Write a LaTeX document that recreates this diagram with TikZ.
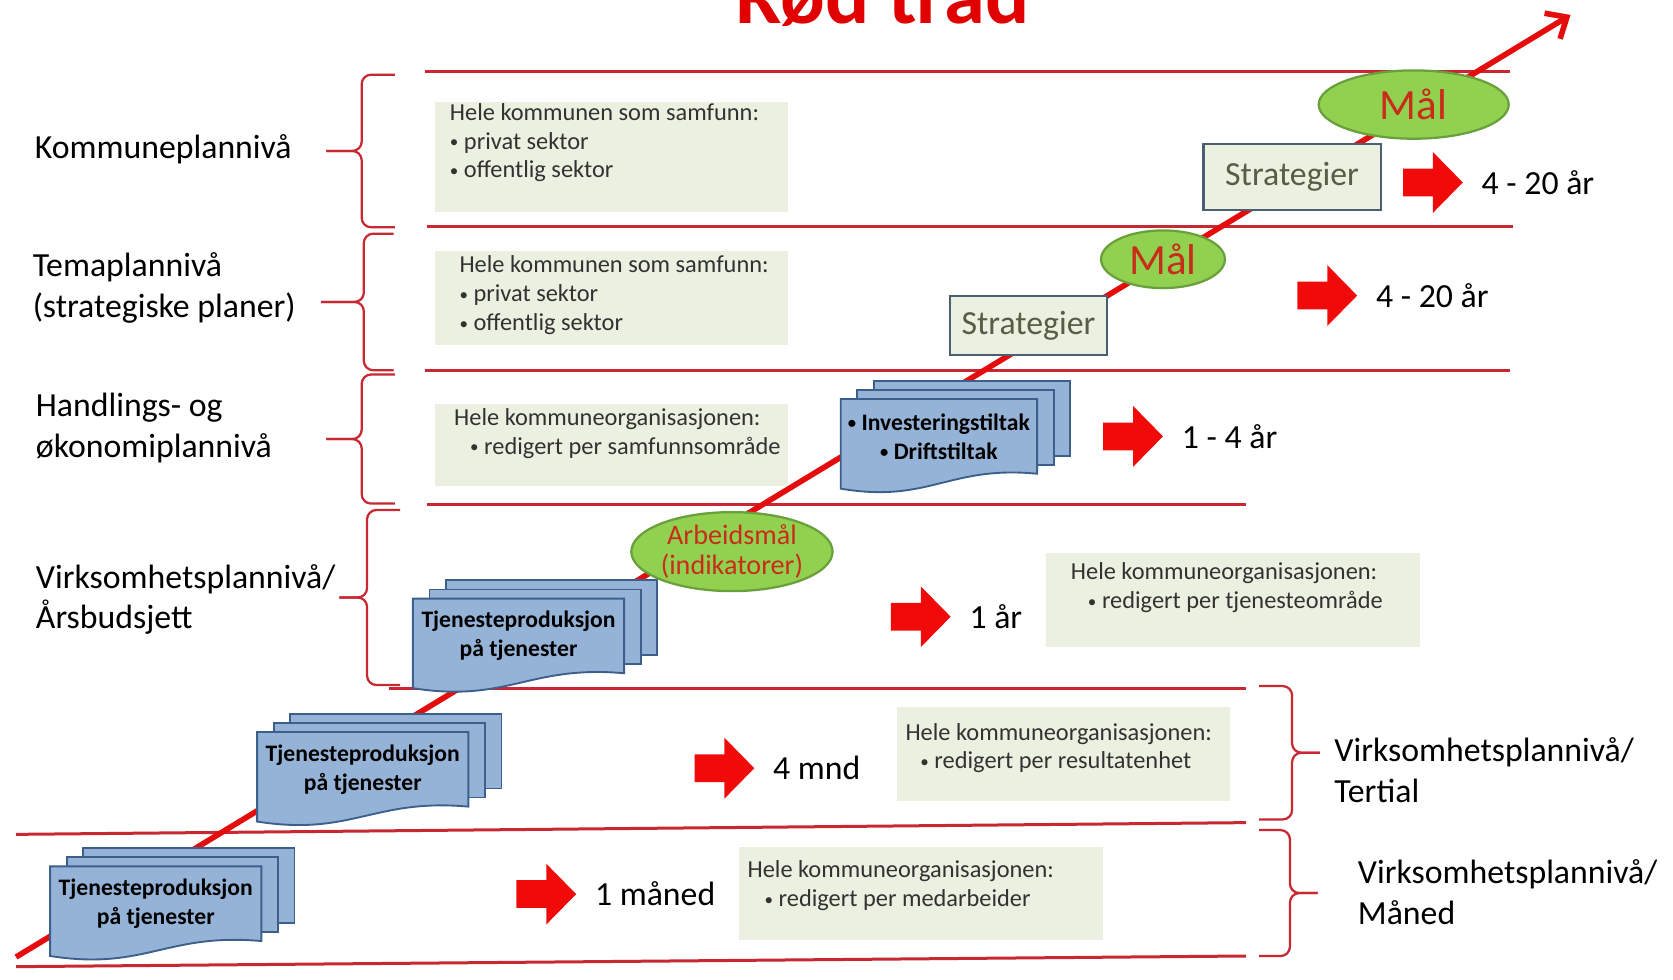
\documentclass[tikz,border=0pt]{standalone}
\usepackage{fontspec}
\setmainfont{Carlito}
\usetikzlibrary{arrows.meta, positioning, calc, shapes.geometric}
\definecolor{lineRed}{RGB}{200,40,50}
\definecolor{threadRed}{RGB}{228,12,12}
\definecolor{arrowRed}{RGB}{240,10,10}
\definecolor{titleRed}{RGB}{225,0,0}
\definecolor{boxFill}{RGB}{235,240,224}
\definecolor{docFill}{RGB}{149,179,215}
\definecolor{docLine}{RGB}{60,95,140}
\definecolor{goalFill}{RGB}{146,208,80}
\definecolor{goalLine}{RGB}{105,160,60}
\definecolor{goalText}{RGB}{200,45,25}
\definecolor{stratLine}{RGB}{75,95,115}
\definecolor{stratText}{RGB}{85,95,70}
\tikzset{
    level/.style={draw=lineRed, line width=0.8pt},
    brc/.style={draw=lineRed, line width=0.6pt, rounded corners=2.5pt},
    thread/.style={draw=threadRed, line width=1.5pt, -{Straight Barb[length=1.6mm, width=2.8mm]}},
    maintitle/.style={anchor=base, inner sep=0pt, text=titleRed, font=\fontsize{22}{26}\selectfont\bfseries},
    lvllabel/.style={anchor=west, align=left, inner sep=0pt, font=\fontsize{9}{10.8}\selectfont},
    dur/.style={inner sep=0pt, font=\fontsize{9}{10.8}\selectfont},
    infobox/.style={anchor=north west, fill=boxFill, inner sep=0pt},
    infotext/.style={anchor=north west, align=left, inner sep=0pt, text={rgb,255:red,50;green,50;blue,50}, font=\fontsize{6.5}{7.7}\selectfont},
    docpage/.style={fill=docFill, draw=docLine, line width=0.5pt},
    doctext/.style={align=center, inner sep=0pt, font=\fontsize{6.3}{7.7}\selectfont\bfseries},
    goal/.style={ellipse, fill=goalFill, draw=goalLine, line width=0.6pt, inner sep=0pt, text=goalText, font=\fontsize{11.5}{13}\selectfont},
    strat/.style={rectangle, fill=boxFill, draw=stratLine, line width=0.6pt, inner sep=0pt, text=stratText, font=\fontsize{9}{10.8}\selectfont},
    blockarrow/.pic={
        \fill[arrowRed] (0,-13) -- (28,-13) -- (28,-28.5) -- (56,0) -- (28,28.5) -- (28,13) -- (0,13) -- cycle;
        \coordinate (-tip) at (56,0);
    }
}
% small bullet
\newcommand{\bul}{\raisebox{0.12ex}{\scalebox{0.7}{•}}}
% brace: end x, spine x, tip x, top y, bottom y
\newcommand{\sidebrace}[5]{%
    \draw[brc] (#1,#4) -- (#2,#4) -- (#2,{(#4+#5)/2}) -- (#3,{(#4+#5)/2});
    \draw[brc] (#3,{(#4+#5)/2}) -- (#2,{(#4+#5)/2}) -- (#2,#5) -- (#1,#5);
}
% stack of pages: centre x, centre y, width, name, text
\newcommand{\docstack}[5]{%
    \foreach \k in {2,1}
        \filldraw[docpage] ({#1-#3/2+15.5*\k},{#2-35-8.5*\k}) rectangle ({#1+#3/2+15.5*\k},{#2+35-8.5*\k});
    \filldraw[docpage] ({#1-#3/2},{#2-35}) -- ({#1+#3/2},{#2-35}) -- ({#1+#3/2},{#2+35})
        .. controls ({#1+0.05*#3},{#2+27}) and ({#1-0.05*#3},{#2+63}) .. ({#1-#3/2},{#2+49}) -- cycle;
    \node[doctext] (#4) at (#1,#2) {#5};
}

\begin{document}
\begin{tikzpicture}[x=0.01cm, y=-0.01cm]
    \useasboundingbox (0,0) rectangle (1568,918);
    % Title
    \node[maintitle] (title) at (827,22) {Rød tråd};
    % Level lines
    \draw[level] (398,67) -- (1415,67);
    \draw[level] (400,212) -- (1418,212);
    \draw[level] (398,347) -- (1415,347);
    \draw[level] (400,473) -- (1168,473);
    \draw[level] (365,645) -- (1168,645);
    \draw[level] (15,782) -- (1168,771);
    \draw[level] (15,906) -- (1168,896);
    % Braces
    \sidebrace{370}{339}{306}{70}{213}
    \sidebrace{369}{341}{301}{219}{347}
    \sidebrace{370}{339}{306}{351}{472}
    \sidebrace{375}{344}{318}{478}{642}
    \sidebrace{1180}{1211}{1237}{643}{768}
    \sidebrace{1180}{1209}{1235}{778}{896}
    % Red thread
    \coordinate (thrStart) at (15,897);
    \coordinate (thrEnd) at (1472,14);
    \draw[thread] (thrStart) -- (thrEnd);
    % Info boxes
    \node[infobox, minimum width=3.31cm, minimum height=1.03cm] (komBox) at (407,95) {};
    \node[infotext] (komText) at ($(komBox.north west)+(14,1)$) {Hele kommunen som samfunn:\\\bul{} privat sektor\\\bul{} offentlig sektor};
    \node[infobox, minimum width=3.31cm, minimum height=0.88cm] (temaBox) at (407,235) {};
    \node[infotext] (temaText) at ($(temaBox.north west)+(23,4)$) {Hele kommunen som samfunn:\\\bul{} privat sektor\\\bul{} offentlig sektor};
    \node[infobox, minimum width=3.31cm, minimum height=0.77cm] (handBox) at (407,378) {};
    \node[infotext] (handText) at ($(handBox.north west)+(18,4)$) {Hele kommuneorganisasjonen:\\\hspace*{1.5mm}\bul{} redigert per samfunnsområde};
    \node[infobox, minimum width=3.50cm, minimum height=0.88cm] (aarBox) at (980,518) {};
    \node[infotext] (aarText) at ($(aarBox.north west)+(23,9)$) {Hele kommuneorganisasjonen:\\\hspace*{1.6mm}\bul{} redigert per tjenesteområde};
    \node[infobox, minimum width=3.12cm, minimum height=0.88cm] (tertBox) at (840,662) {};
    \node[infotext] (tertText) at ($(tertBox.north west)+(8,15)$) {Hele kommuneorganisasjonen:\\\hspace*{1.4mm}\bul{} redigert per resultatenhet};
    \node[infobox, minimum width=3.41cm, minimum height=0.87cm] (manBox) at (692,793) {};
    \node[infotext] (manText) at ($(manBox.north west)+(8,13)$) {Hele kommuneorganisasjonen:\\\hspace*{1.6mm}\bul{} redigert per medarbeider};
    % Page stacks
    \docstack{880}{409}{184}{invDoc}{\bul{} Investeringstiltak\\\bul{} Driftstiltak}
    \docstack{486}{596}{198}{tjDocA}{Tjenesteproduksjon\\på tjenester}
    \docstack{340}{721}{198}{tjDocB}{Tjenesteproduksjon\\på tjenester}
    \docstack{146}{847}{198}{tjDocC}{Tjenesteproduksjon\\på tjenester}
    % Goals and strategies
    \node[goal, minimum width=1.78cm, minimum height=0.64cm] (goalA) at (1325,98) {Mål};
    \node[strat, minimum width=1.66cm, minimum height=0.62cm] (stratA) at (1211,166) {Strategier};
    \node[goal, minimum width=1.16cm, minimum height=0.54cm] (goalB) at (1090,243) {Mål};
    \node[strat, minimum width=1.47cm, minimum height=0.55cm] (stratB) at (964,305) {Strategier};
    \node[goal, align=center, minimum width=1.80cm, minimum height=0.74cm, font=\fontsize{7.5}{8}\selectfont] (arbGoal) at (686,517) {Arbeidsmål\\(indikatorer)};
    % Time arrows
    \pic (arrA) at (1315,171) {blockarrow};
    \pic (arrB) at (1216,277) {blockarrow};
    \pic (arrC) at (1034,409) {blockarrow};
    \pic (arrD) at (835,578) {blockarrow};
    \pic (arrE) at (651,720) {blockarrow};
    \pic (arrF) at (484,838) {blockarrow};
    \node[dur, right=0.17cm of arrA-tip] (durA) {4 - 20 år};
    \node[dur, right=0.17cm of arrB-tip] (durB) {4 - 20 år};
    \node[dur, right=0.17cm of arrC-tip] (durC) {1 - 4 år};
    \node[dur, right=0.17cm of arrD-tip] (durD) {1 år};
    \node[dur, right=0.17cm of arrE-tip] (durE) {4 mnd};
    \node[dur, right=0.17cm of arrF-tip] (durF) {1 måned};
    % Level labels
    \node[lvllabel] (komLbl) at (32,140) {Kommuneplannivå};
    \node[lvllabel] (temaLbl) at (30,270) {Temaplannivå\\(strategiske planer)};
    \node[lvllabel] (handLbl) at (33,401) {Handlings- og\\økonomiplannivå};
    \node[lvllabel] (virkLbl) at (33,562) {Virksomhetsplannivå/\\Årsbudsjett};
    \node[lvllabel] (tertLbl) at (1250,722) {Virksomhetsplannivå/\\Tertial};
    \node[lvllabel] (manLbl) at (1272,836) {Virksomhetsplannivå/\\Måned};
\end{tikzpicture}
\end{document}
